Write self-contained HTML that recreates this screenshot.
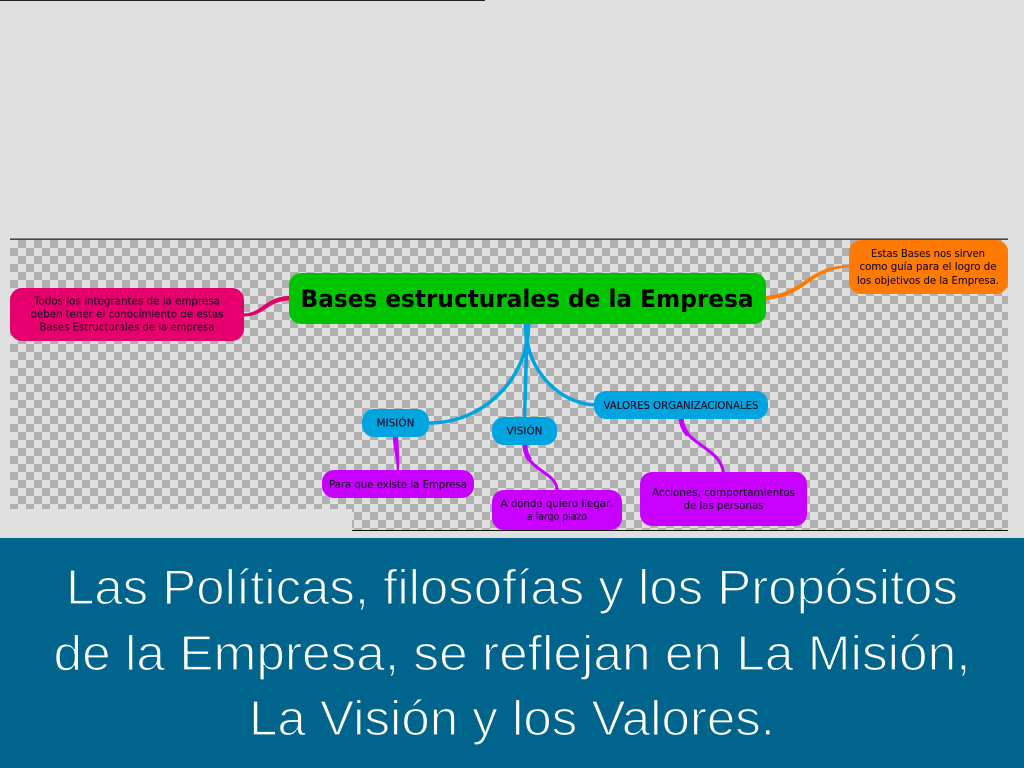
<!DOCTYPE html>
<html><head><meta charset="utf-8"><style>
html,body{margin:0;padding:0;background:#e0e0e0;width:1024px;height:768px;overflow:hidden}
svg{display:block}
text{font-family:"DejaVu Sans","Liberation Sans",sans-serif;text-anchor:middle;fill:#1a0a20;stroke:#1a0a20;stroke-width:.12}
.h{font-family:"Liberation Sans",sans-serif;font-size:49px;fill:#fff;stroke:#00648c;stroke-width:1.3}
</style></head><body>
<svg width="1024" height="768" viewBox="0 0 1024 768" xmlns="http://www.w3.org/2000/svg">
<defs>
<pattern id="c" x="10" y="240" width="16" height="16" patternUnits="userSpaceOnUse">
<rect width="16" height="16" fill="#e0e0e0"/>
<rect x="8" y="0" width="8" height="8" fill="#b0b0b0"/>
<rect x="0" y="8" width="8" height="8" fill="#b0b0b0"/>
</pattern>
</defs>
<rect width="1024" height="768" fill="#e0e0e0"/>
<rect x="0" y="0" width="485" height="1" fill="#222"/>
<polygon points="10,240 1008,240 1008,530 352,530 352,509 10,509" fill="url(#c)"/>
<rect x="10" y="238.5" width="998" height="1.3" fill="#222"/>
<rect x="352" y="530" width="656" height="1" fill="#111"/>

<g fill="none">
<path d="M527 335C527 370 490 423 429 423" stroke="#00a5e0" stroke-width="3.500"/>
<path d="M527 335L524.500 418" stroke="#00a5e0" stroke-width="3.500"/>
<path d="M527 335C527 365 555 403 595 405" stroke="#00a5e0" stroke-width="3.500"/>
</g>
<path d="M523.500 324L530.500 324C530 335 529 345 527.500 354L526 354C525 345 524 335 523.500 324Z" fill="#00a5e0"/>
<path d="M289 296L289 300.500C268 301 264 316.500 244 316.500L244 313.500C262 313 266 296.500 289 296Z" fill="#e6006e"/>
<path d="M766 296L766 300C808 296 810 268.500 850 267.500L850 265C806 266 806 292 766 296Z" fill="#ff7a00"/>
<path d="M393 437L398 437C399 450 399.500 460 399 470L396.700 470C397 460 393 450 393 437Z" fill="#c800ff"/>
<g fill="none" stroke="#c800ff">
<path d="M525 445C526 472 555 470 557.300 490" stroke-width="3"/>
<path d="M681 418C684 446 720 446 723.500 473" stroke-width="3"/>
<path d="M525 445C525 452 527 456 530 460" stroke-width="5"/>
<path d="M681 418C681.500 425 684 430 688 435" stroke-width="5"/>
</g>

<rect x="289" y="273" width="477" height="51" rx="12" fill="#00c400"/>
<text x="527" y="307" font-size="24" font-weight="bold" textLength="453" lengthAdjust="spacingAndGlyphs" style="fill:#000;stroke:none">Bases estructurales de la Empresa</text>

<rect x="10" y="288" width="234" height="53" rx="12" fill="#e6006e"/>
<text x="127" y="304.500" font-size="10.500" textLength="186" lengthAdjust="spacingAndGlyphs">Todos los integrantes de la empresa</text>
<text x="127" y="317.500" font-size="10.500" textLength="193" lengthAdjust="spacingAndGlyphs">deben tener el conocimiento de estas</text>
<text x="127" y="330.500" font-size="10.500" textLength="175" lengthAdjust="spacingAndGlyphs">Bases Estructurales de la empresa</text>

<rect x="849" y="240" width="159" height="54" rx="12" fill="#ff7a00"/>
<text x="928" y="257" font-size="10.500" textLength="114" lengthAdjust="spacingAndGlyphs">Estas Bases nos sirven</text>
<text x="928" y="270" font-size="10.500" textLength="137" lengthAdjust="spacingAndGlyphs">como guía para el logro de</text>
<text x="928" y="284" font-size="10.500" textLength="142" lengthAdjust="spacingAndGlyphs">los objetivos de la Empresa.</text>

<rect x="362" y="409" width="67" height="28" rx="12" fill="#00a5e0"/>
<text x="395.500" y="426.500" font-size="10.500" textLength="38" lengthAdjust="spacingAndGlyphs">MISIÓN</text>
<rect x="492" y="417" width="65" height="28" rx="12" fill="#00a5e0"/>
<text x="524.500" y="434.500" font-size="10.500" textLength="36" lengthAdjust="spacingAndGlyphs">VISIÓN</text>
<rect x="594" y="391" width="174" height="28" rx="12" fill="#00a5e0"/>
<text x="681" y="409" font-size="10.500" textLength="155" lengthAdjust="spacingAndGlyphs">VALORES ORGANIZACIONALES</text>

<rect x="322" y="470" width="152" height="28" rx="12" fill="#c800ff"/>
<text x="398" y="488" font-size="10.500" textLength="138" lengthAdjust="spacingAndGlyphs">Para que existe la Empresa</text>

<rect x="492" y="490" width="130" height="40" rx="12" fill="#c800ff"/>
<text x="557" y="507" font-size="10.500" textLength="113" lengthAdjust="spacingAndGlyphs">A donde quiero llegar,</text>
<text x="557" y="520" font-size="10.500" textLength="60" lengthAdjust="spacingAndGlyphs">a largo plazo</text>

<rect x="640" y="472" width="167" height="54" rx="12" fill="#c800ff"/>
<text x="723.500" y="496" font-size="10.500" textLength="143" lengthAdjust="spacingAndGlyphs">Acciones, comportamientos</text>
<text x="723.500" y="509" font-size="10.500" textLength="80" lengthAdjust="spacingAndGlyphs">de las personas</text>

<rect x="0" y="538" width="1024" height="230" fill="#00648c"/>
<text class="h" x="512" y="604" textLength="892" lengthAdjust="spacingAndGlyphs">Las Políticas, filosofías y los Propósitos</text>
<text class="h" x="512" y="670" textLength="917" lengthAdjust="spacingAndGlyphs">de la Empresa, se reflejan en La Misión,</text>
<text class="h" x="512" y="735" textLength="526" lengthAdjust="spacingAndGlyphs">La Visión y los Valores.</text>
</svg>
</body></html>
